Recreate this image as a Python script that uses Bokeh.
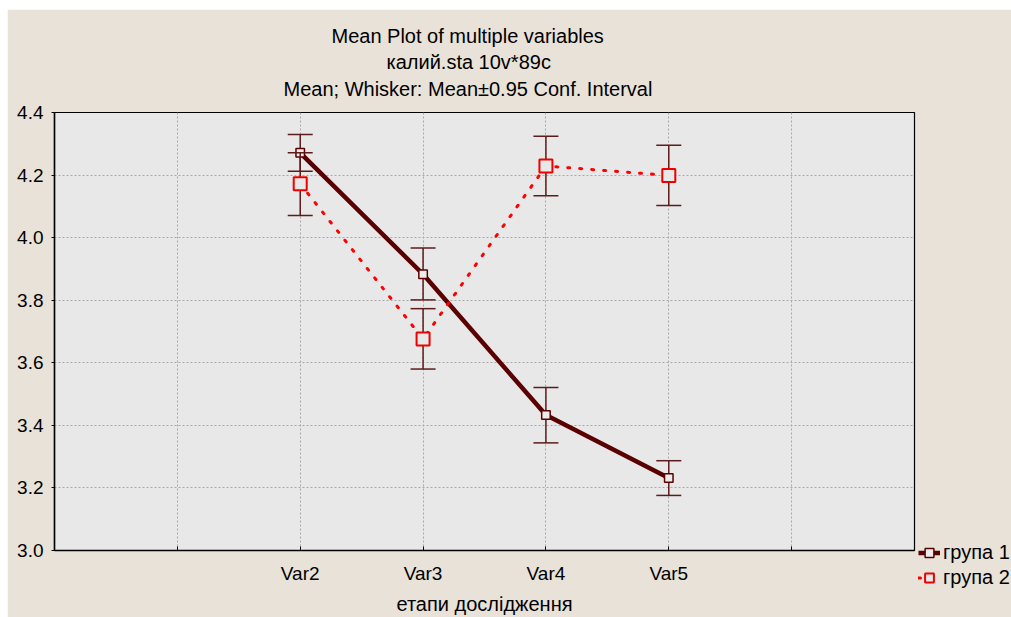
from bokeh.plotting import figure
from bokeh.models import (ColumnDataSource, FixedTicker, Range1d, Whisker, Title,
                          Legend, LegendItem, TeeHead, Spacer)
from bokeh.layouts import column, row
from bokeh.embed import file_html
from bokeh.resources import INLINE

# ---------------- data ----------------
categories = ["Var2", "Var3", "Var4", "Var5"]
g1_mean = [4.271, 3.883, 3.433, 3.232]
g1_upper = [4.330, 3.967, 3.521, 3.287]
g1_lower = [4.212, 3.801, 3.344, 3.176]
g2_mean = [4.172, 3.676, 4.229, 4.199]
g2_upper = [4.271, 3.773, 4.324, 4.295]
g2_lower = [4.071, 3.580, 4.134, 4.103]
y_ticks = [3.0, 3.2, 3.4, 3.6, 3.8, 4.0, 4.2, 4.4]
series_names = ["група 1", "група 2"]
title_lines = ["Mean Plot of multiple variables",
               "калий.sta 10v*89c",
               "Mean; Whisker: Mean±0.95 Conf. Interval"]
x_label = "етапи дослідження"

# ---------------- layout ----------------
FONT = "Liberation Sans"
PAD_L, PAD_T = 7, 9
W, H = 1011 - PAD_L, 617 - PAD_T
FRAME_W, FRAME_H = 860, 438
ML, MT = 47, 103
MR = W - ML - FRAME_W
MB = H - MT - FRAME_H

n_slots = len(categories) + 3          # empty slots around the variables
x_pos = [i + 2 for i in range(len(categories))]
x_ticks = list(range(1, n_slots))
x_start, x_end = 0, n_slots
y_start, y_end = y_ticks[0], y_ticks[-1]

DARK = "#5a0000"
WHISK = "#5e1b1b"
RED = "#ff0000"

p = figure(frame_width=FRAME_W, frame_height=FRAME_H,
           output_backend="svg", toolbar_location=None,
           x_range=Range1d(x_start, x_end), y_range=Range1d(y_start, y_end),
           min_border_left=ML, min_border_right=MR, min_border_top=MT,
           min_border_bottom=MB)
p.background_fill_color = "#e8e8e8"
p.border_fill_color = "#e8e2d8"
p.outline_line_color = "black"
p.outline_line_width = 1.2

# axes
p.xaxis.ticker = FixedTicker(ticks=x_ticks)
overrides = {t: "" for t in x_ticks}
for xp, c in zip(x_pos, categories):
    overrides[xp] = c
p.xaxis.major_label_overrides = overrides
p.yaxis.ticker = FixedTicker(ticks=y_ticks)
p.yaxis.major_label_overrides = {t: f"{t:.1f}" for t in y_ticks}
for ax in (p.xaxis[0], p.yaxis[0]):
    ax.axis_line_color = "black"
    ax.axis_line_width = 1.5
    ax.major_tick_line_color = "black"
    ax.minor_tick_line_color = None
    ax.major_label_text_font = FONT
    ax.major_label_text_font_size = "19px"
    ax.major_label_text_color = "black"
p.xaxis.major_tick_in = 4
p.xaxis.major_tick_out = 0
p.xaxis.major_label_standoff = 12
p.xaxis.axis_label = x_label
p.xaxis.axis_label_text_font = FONT
p.xaxis.axis_label_text_font_size = "20px"
p.xaxis.axis_label_text_font_style = "normal"
p.xaxis.axis_label_text_color = "black"
p.xaxis.axis_label_standoff = 6
p.yaxis.major_tick_in = 0
p.yaxis.major_tick_out = 3
p.yaxis.major_label_standoff = 8

# grid
for g in (p.xgrid[0], p.ygrid[0]):
    g.grid_line_color = "#a8a8a8"
    g.grid_line_dash = "2 2"
    g.grid_line_width = 1

# ---------------- series ----------------
src1 = ColumnDataSource(dict(x=x_pos, m=g1_mean, upper=g1_upper, lower=g1_lower))
src2 = ColumnDataSource(dict(x=x_pos, m=g2_mean, upper=g2_upper, lower=g2_lower))


def make_whisker(src):
    return Whisker(source=src, base="x", upper="upper", lower="lower",
                   dimension="height", line_color=WHISK, line_width=1.5,
                   upper_head=TeeHead(size=25, line_color=WHISK, line_width=1.5),
                   lower_head=TeeHead(size=25, line_color=WHISK, line_width=1.5),
                   level="glyph")


l1 = p.line("x", "m", source=src1, line_color=DARK, line_width=4.5)
p.renderers.append(make_whisker(src1))
s1 = p.scatter("x", "m", source=src1, marker="square", size=8.5,
               fill_color="#ececec", line_color=DARK, line_width=1.5)

l2 = p.line("x", "m", source=src2, line_color=RED, line_width=3,
            line_dash="2 10", line_cap="round")
p.renderers.append(make_whisker(src2))
s2 = p.scatter("x", "m", source=src2, marker="square", size=13,
               fill_color="#e8e8e8", line_color="#ee0000", line_width=2)

# ---------------- title lines (left-aligned offsets centre them at x~467) ----
title_offsets = [277, 332, 229]
title_standoffs = [26, -21, 26]
for txt, off, so in reversed(list(zip(title_lines, title_offsets, title_standoffs))):
    p.add_layout(Title(text=txt, align="left", offset=off, standoff=so,
                       text_font=FONT, text_font_size="20px",
                       text_font_style="normal", text_color="black"), "above")

# ---------------- legend ----------------
legend = Legend(items=[LegendItem(label=series_names[0], renderers=[l1, s1]),
                       LegendItem(label=series_names[1], renderers=[l2, s2])],
                location=(4, -40), orientation="vertical",
                padding=0, margin=0, spacing=0,
                glyph_width=22, glyph_height=25, label_height=25,
                label_standoff=3, label_text_font=FONT,
                label_text_font_size="20px", label_text_color="black",
                border_line_color=None, background_fill_alpha=0)
p.add_layout(legend, "right")

page = column(Spacer(width=1011, height=PAD_T),
              row(Spacer(width=PAD_L, height=H), p, spacing=0), spacing=0)
open("out.html", "w").write(file_html(page, INLINE))
